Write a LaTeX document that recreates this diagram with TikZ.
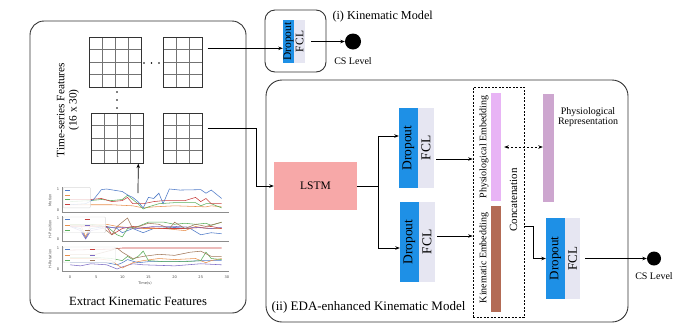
\documentclass[tikz,border=0pt]{standalone}
\usepackage{fontspec}
\usepackage{graphicx}
\setmainfont{Liberation Serif}
\newfontfamily\plotfont{DejaVu Sans}
\usetikzlibrary{arrows.meta}
\definecolor{dropblue}{HTML}{1E90E6}
\definecolor{fclgray}{HTML}{E6E6F2}
\definecolor{lstmpink}{HTML}{F7A8A8}
\definecolor{physpink}{HTML}{E8B4F5}
\definecolor{kinbrown}{HTML}{B36B55}
\definecolor{reprmauve}{HTML}{CDA6CF}
\definecolor{pblue}{HTML}{4E7AC7}
\definecolor{porange}{HTML}{E8904F}
\definecolor{pgreen}{HTML}{5BAE5B}
\definecolor{pred}{HTML}{C8403F}
\definecolor{ppurple}{HTML}{7D6BC4}
\definecolor{pbrown}{HTML}{A0785A}
\newcommand{\vlabel}[1]{\rotatebox{90}{#1}}
\newcommand{\fs}[1]{\fontsize{#1}{#1}\selectfont}

\begin{document}
\begin{tikzpicture}[x=1pt, y=-1pt, font=\fs{10},
  grp/.style={draw=black!80, line width=0.9pt, rounded corners=14pt, inner sep=0pt},
  drop/.style={fill=dropblue, inner sep=0pt, minimum width=19pt, minimum height=80pt, font=\fs{13.5}},
  fcl/.style={fill=fclgray, inner sep=0pt, minimum width=16pt, minimum height=80pt, font=\fs{13.5}},
  bar/.style={inner sep=0pt, minimum width=10pt, minimum height=107pt},
  arr/.style={-{Stealth[length=4.5pt,width=3.5pt]}, line width=0.7pt},
  csdot/.style={circle, fill=black, inner sep=0pt, minimum size=15pt},
  gridbox/.style={draw=black!80, line width=0.6pt, inner sep=0pt, minimum height=50pt},
  gridln/.style={draw=black!55, line width=0.5pt},
  axisln/.style={draw=black!45, line width=0.8pt},
  ln/.style={line width=0.55pt},
  tick/.style={font=\plotfont\fs{3.6}, text=black!70, inner sep=0pt}]
\useasboundingbox (0,0) rectangle (695,333);

% containers
\node[grp, minimum width=216pt, minimum height=292pt] (ext) at (138,167) {};
\node[grp, rounded corners=10pt, minimum width=61pt, minimum height=62pt] (kin) at (295.5,41) {};
\node[grp, rounded corners=16pt, minimum width=362pt, minimum height=242pt] (eda) at (447,201) {};
\node[anchor=west, font=\fs{12.2}] at (329,17) {(i) Kinematic Model};
\node[anchor=west, font=\fs{13}] at (268,307) {(ii) EDA-enhanced Kinematic Model};
\node[font=\fs{12.6}] at (138,301) {Extract Kinematic Features};

% feature grids
\foreach \gx/\gy/\nc [count=\k] in {89/37/4, 163/37/3, 91/113/4, 163/113/3} {
  \pgfmathtruncatemacro\lc{\nc-1}
  \foreach \c in {1,...,\lc}
    \draw[gridln] (\gx+\c*13,\gy) -- (\gx+\c*13,\gy+50);
  \foreach \r in {1,2,3}
    \draw[gridln] (\gx,\gy+\r*12.5) -- (\gx+\nc*13,\gy+\r*12.5);
  \node[gridbox, minimum width=\nc*13pt, anchor=north west] (g\k) at (\gx,\gy) {};
}
\foreach \p in {144,151.5,159} \fill (\p,63) circle (0.9);
\foreach \p in {92,100,108} \fill (117,\p) circle (0.9);
\node[rotate=90, align=center, font=\fs{11.3}, inner sep=0pt] (tsf) at (68,110) {Time-series Features\\[1pt](16 x 30)};

% kinematic plots
\foreach \by/\nm in {210/Motion, 239/H-Position, 269/H-Rotation} {
  \draw[axisln] (62,\by-23) -- (62,\by+2) -- (229,\by+2);
  \node[tick] at (58,\by-21) {1};
  \node[tick] at (58,\by) {0};
  \node[tick, rotate=90] at (50,\by-10) {\nm};
}
\foreach \t in {0,5,...,30} \node[tick] at (70+\t*5.23,277) {\t};
\node[tick] at (145,283.5) {Time(s)};

\begin{scope}[shift={(70,210)}, x=5.23pt, y=21pt]
  \draw[ln, porange] plot coordinates {(0,0.25)(8,0.25)(12,0.2)(14,0.1)(16,0.15)(20,0.2)(26,0.15)(27,0.2)(29,0.15)};
  \draw[ln, pgreen] plot coordinates {(0,0.4)(4,0.45)(6,0.5)(8,0.45)(10,0.5)(11,0.7)(12,0.5)(13,0.3)(14,0.05)(15,0.15)(17,0.3)(20,0.35)(24,0.35)(25,0.2)(26,0.3)(27,0.3)(29,0.1)};
  \draw[ln, pred] plot coordinates {(0,0.5)(4,0.5)(6,0.55)(8,0.4)(10,0.45)(11,0.6)(12,0.3)(14,0.3)(16,0.4)(18,0.45)(22,0.45)(24,0.6)(25,0.4)(26,0.55)(27,0.3)(29,0.3)};
  \draw[ln, pblue] plot coordinates {(0,0.25)(3,0.3)(4.5,0.5)(6,0.97)(7,1.0)(9,0.92)(10,0.88)(11,0.72)(12,0.6)(13,0.4)(14,0.1)(15,0.6)(16,0.55)(17,0.8)(17.8,0.3)(19,1.0)(21,0.95)(25,0.97)(26,0.8)(27,0.95)(29,0.55)};
  \draw[fill=white, fill opacity=0.85, draw=black!15, rounded corners=1pt] (-1.3,0.1) rectangle (3.9,1.08);
  \foreach \v/\cl in {0.95/pblue, 0.72/porange, 0.49/pgreen, 0.26/pred}
    \draw[ln, \cl] (-1,\v) -- (0,\v);
\end{scope}

\begin{scope}[shift={(70,239)}, x=5.23pt, y=21pt]
  \draw[ln, pblue] plot coordinates {(0,0.6)(2,0.5)(3,0.05)(4,0.5)(7,0.6)(9,0.5)(10,0.3)(12,0.5)(14,0.3)(16,0.5)(20,0.55)(23,0.5)(25,0.2)(27,0.3)(29,0.25)};
  \draw[ln, porange] plot coordinates {(0,0.7)(2,0.7)(3,0.1)(4,0.7)(7,0.7)(9,0.6)(11,0.55)(14,0.5)(18,0.5)(22,0.4)(24,0.6)(26,0.5)(29,0.5)};
  \draw[ln, pgreen] plot coordinates {(0,0.7)(4,0.7)(7,0.6)(9,0.2)(10,0.1)(11,0.5)(13,0.6)(15,0.8)(18,0.8)(20,0.7)(22,0.75)(24,0.7)(26,0.75)(27,0.65)(29,0.8)};
  \draw[ln, pred] plot coordinates {(0,0.6)(4,0.6)(7,0.6)(8,0.2)(10,0.5)(12,0.6)(14,0.55)(18,0.5)(22,0.5)(25,0.55)(27,0.6)(29,0.5)};
  \draw[ln, ppurple] plot coordinates {(0,0.6)(2,0.4)(3,0.0)(4,0.4)(7,0.55)(10,0.55)(13,0.5)(16,0.6)(20,0.6)(24,0.55)(27,0.5)(29,0.55)};
  \draw[ln, pbrown] plot coordinates {(0,0.65)(4,0.65)(6,0.6)(8,0.2)(9,0.6)(11,1.0)(12,0.5)(15,0.75)(17,0.7)(19,0.5)(20,0.8)(22,0.5)(24,0.7)(26,0.6)(29,0.8)};
  \draw[fill=white, fill opacity=0.85, draw=black!15, rounded corners=1pt] (-1.3,0.3) rectangle (6.8,1.05);
  \foreach \v/\cl/\cr in {0.92/pblue/pred, 0.67/porange/ppurple, 0.42/pgreen/pbrown} {
    \draw[ln, \cl] (-1,\v) -- (0,\v);
    \draw[ln, \cr] (2.8,\v) -- (3.8,\v);
  }
\end{scope}

\begin{scope}[shift={(70,269)}, x=5.23pt, y=21pt]
  \draw[ln, pred] plot coordinates {(0,0.9)(8,0.95)(10,1.0)(29,1.0)};
  \draw[ln, ppurple] plot coordinates {(0,0.2)(2,0.15)(4,0.25)(7,0.2)(9,0.0)(10,0.1)(12,0.25)(14,0.2)(20,0.15)(25,0.25)(29,0.2)};
  \draw[ln, pblue] plot coordinates {(0,0.3)(4,0.3)(7,0.3)(9,0.2)(10,0.3)(11,0.45)(13,0.3)(15,0.35)(20,0.35)(26,0.4)(29,0.4)};
  \draw[ln, porange] plot coordinates {(0,0.5)(5,0.5)(8,0.4)(9,0.2)(10,0.05)(12,0.3)(14,0.4)(17,0.5)(20,0.45)(24,0.5)(26,0.3)(27,0.4)(29,0.5)};
  \draw[ln, pgreen] plot coordinates {(0,0.55)(5,0.55)(8,0.5)(10,0.4)(11,0.6)(12,0.45)(13,0.6)(14,0.85)(15,0.4)(18,0.35)(22,0.35)(25,0.4)(26,0.8)(27,0.5)(29,0.45)};
  \draw[ln, pbrown] plot coordinates {(0,0.7)(5,0.7)(8,0.9)(9,1.0)(10,0.8)(12,0.5)(14,0.6)(17,0.7)(20,0.65)(23,0.8)(25,0.85)(27,0.6)(29,0.6)};
  \draw[fill=white, fill opacity=0.85, draw=black!15, rounded corners=1pt] (-1.3,0.3) rectangle (8.7,1.05);
  \foreach \v/\cl/\cr in {0.92/pblue/pred, 0.67/porange/ppurple, 0.42/pgreen/pbrown} {
    \draw[ln, \cl] (-1,\v) -- (0,\v);
    \draw[ln, \cr] (3.8,\v) -- (4.8,\v);
  }
\end{scope}
\coordinate (ch) at (138,193);

% (i) kinematic model
\node[drop, minimum width=11pt, minimum height=43pt, font=\fs{11.5}] (d1) at (288.5,41.5) {\vlabel{Dropout}};
\node[fcl, minimum width=11pt, minimum height=43pt, font=\fs{11.5}] (f1) at (299.5,41.5) {\vlabel{FCL}};
\node[csdot, minimum size=16pt] (cs1) at (353,41.5) {};
\node at (353,61) {CS Level};

% (ii) EDA-enhanced model
\node[fill=lstmpink, inner sep=0pt, minimum width=83pt, minimum height=48pt, font=\fs{11.5}] (lstm) at (315.5,186) {LSTM};
\node[drop] (d2) at (408.5,148) {\vlabel{Dropout}};
\node[fcl] (f2) at (426,148) {\vlabel{FCL}};
\node[drop] (d3) at (409.5,242) {\vlabel{Dropout}};
\node[fcl] (f3) at (427,242) {\vlabel{FCL}};
\node[draw, dash pattern=on 2pt off 1.5pt, line width=0.7pt, inner sep=0pt, minimum width=51pt, minimum height=230pt] (cat) at (498.5,202) {};
\node[bar, fill=physpink, minimum height=108pt] (pe) at (496,147) {};
\node[bar, fill=kinbrown, minimum height=106pt] (ke) at (496,259) {};
\node[font=\fs{10}, inner sep=0pt] at (484,147) {\vlabel{Physiological Embedding}};
\node[font=\fs{10}, inner sep=0pt] at (484,258) {\vlabel{Kinematic Embedding}};
\node[font=\fs{11}, inner sep=0pt] at (513.5,200) {\vlabel{Concatenation}};
\node[bar, fill=reprmauve, minimum width=11pt, minimum height=108pt] (pr) at (548.5,148) {};
\node[align=center, font=\fs{10}] at (588,117.5) {Physiological\\Representation};
\node[drop, minimum height=81pt, font=\fs{13}] (d4) at (555.5,258.5) {\vlabel{Dropout}};
\node[fcl, minimum width=15pt, minimum height=81pt, font=\fs{13}] (f4) at (572.5,258.5) {\vlabel{FCL}};
\node[csdot, minimum size=14pt] (cs2) at (654,258.5) {};
\node at (654,276) {CS Level};

% connectors
\draw[arr] (ch) -- ([xshift=21pt]g3.south);
\draw[arr] ([xshift=5pt,yshift=14pt]g2.east) coordinate (s1) -- (s1 -| d1.west);
\draw[arr] ([xshift=5pt,yshift=10pt]g4.east) -- ++(49,0) |- (lstm.west);
\draw[arr] (lstm.east) -- ++(21,0) |- ([yshift=12pt]d2.west);
\draw[arr] (lstm.east) -- ++(21,0) |- ([yshift=-6pt]d3.west);
\draw[arr] ([xshift=2pt,yshift=-11pt]f2.east) coordinate (s2) -- (s2 -| cat.west);
\draw[arr] ([xshift=2pt,yshift=6pt]f3.east) coordinate (s3) -- (s3 -| cat.west);
\draw[dash pattern=on 2.5pt off 1.5pt, line width=0.7pt, {Stealth[length=4.5pt,width=3.5pt]}-{Stealth[length=4.5pt,width=3.5pt]}] ([xshift=3pt]pe.east) coordinate (s4) -- (s4 -| pr.west);
\draw[arr] ([yshift=-24pt]cat.east) -- ++(9,0) |- (d4.west);
\draw[arr] ([xshift=5pt]f4.east) -- (cs2.west);
\draw[arr] ([xshift=6pt]f1.east) -- (cs1.west);
\end{tikzpicture}
\end{document}
